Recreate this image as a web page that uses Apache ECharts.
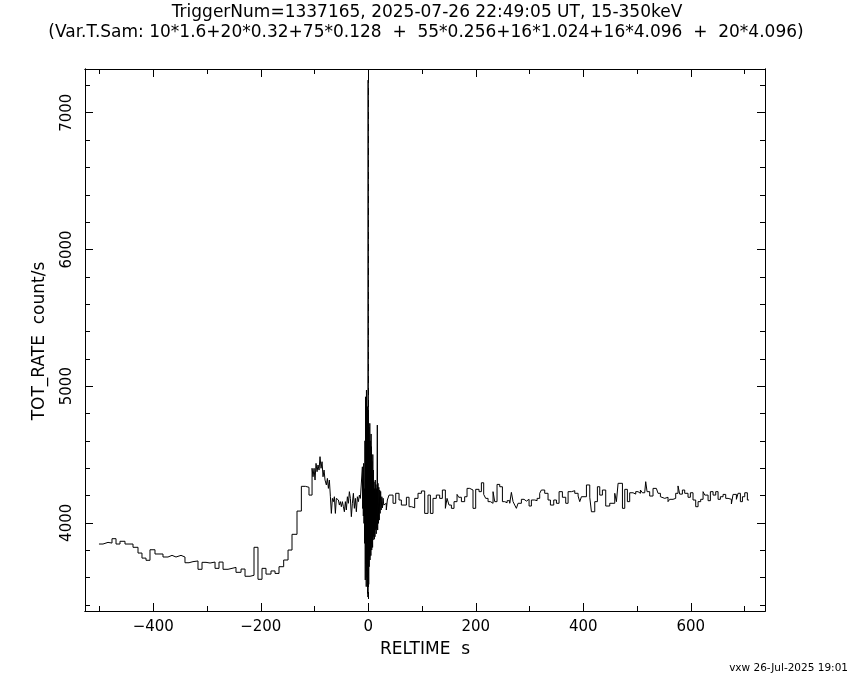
<!DOCTYPE html>
<html>
<head>
<meta charset="utf-8">
<script src="https://cdn.jsdelivr.net/npm/echarts@6/dist/echarts.min.js"></script>
<style>html,body{margin:0;padding:0;background:#fff}#c{width:850px;height:680px}</style>
</head>
<body>
<div id="c"></div>
<script>
// ---- data (bin start time [s], rate [count/s]) ----
const preTimes = [-501,-493.5,-484.2,-476.8,-469.3,-461.9,-452.6,-437.7,-428.4,-421,-413.5,-406.1,-396.8,-381.9,-372.6,-365.1,-357.7,-348.4,-341,-333.5,-326.1,-316.8,-309.3,-301.9,-294.4,-285.1,-277.7,-270.2,-260.9,-246.1,-236.7,-229.3,-220,-212.6,-205.2,-197.7,-190.3,-181,-173.5,-166.1,-157.4,-149.3,-141.9,-132.6,-124.5,-117,-110.3];
const preRates = [3845,3857,3852,3884,3845,3865,3845,3821,3779,3742,3726,3803,3772,3750,3762,3750,3762,3750,3708,3716,3721,3660,3711,3706,3713,3667,3713,3660,3674,3638,3662,3609,3616,3821,3587,3667,3625,3648,3630,3679,3728,3801,3916,4086,4267,4260,4203];

const fineTimes = [-104.6,-102.8,-100.9,-99.1,-97.2,-95.3,-93.5,-91.6,-89.8,-87.9,-86.0,-84.2,-82.3,-80.5,-78.0,-76.1,-74.2,-72.4,-70.5,-68.7,-66.8,-64.9,-63.1,-61.2,-59.4,-57.5,-55.6,-53.8,-51.9,-50.1,-48.2,-46.3,-44.5,-42.6,-40.8,-38.9,-37.0,-35.2,-33.3,-31.5,-29.6,-27.7,-25.9,-24.0,-22.2,-20.3,-18.4,-16.6,-14.7,-12.9];
const fineRates = [4399,4337,4399,4313,4435,4374,4423,4386,4484,4399,4447,4337,4386,4313,4277,4325,4252,4313,4191,4069,4179,4155,4191,4069,4179,4167,4179,4130,4155,4118,4155,4118,4081,4155,4094,4191,4143,4228,4179,4045,4143,4216,4106,4179,4081,4191,4155,4203,4179,4191];

const burstTimes = [-11.0,-10.4,-9.8,-9.2,-8.6,-8.0,-7.4,-6.8,-6.2,-5.6,-5.0,-4.6,-4.2,-3.8,-3.4,-3.0,-2.6,-2.2,-1.8,-1.4,-1.0,-0.6,-0.3,0.0,0.4,0.8,1.2,1.6,2.0,2.4,2.8,3.2,3.6,4.0,4.4,4.8,5.2,5.6,6.0,6.4,6.8,7.2,7.6,8.0,8.4,8.8,9.4,10.0,10.6,11.2,11.8,12.4,13.0,13.6,14.2,14.8,15.4,16.0,16.8,17.4,18.0,18.8,19.6,20.4,21.2,22.0,23.0,24.0,25.2,26.4,27.6,28.8];
const burstRates = [4410,4105,4300,4050,4435,3996,4250,3850,4600,3582,4922,3700,4500,3533,4971,3650,4700,3600,4850,3484,4600,3457,7239,3700,4825,3550,4700,3679,4500,3750,4728,3728,4600,3800,4450,3760,4650,3850,4557,3801,4450,3850,4350,3820,4500,3874,4386,3900,4300,3880,4250,3898,4313,3950,4280,3920,4250,3960,4715,3947,4289,3996,4260,4020,4240,4069,4230,4094,4191,4110,4180,4130];

const postTimes = [30.5,33.5,35.5,38.6,46,51,57.2,61.5,70.9,75.8,80.2,86.3,92.5,98.8,104.9,111.1,115.5,120.4,126.6,132.8,137.8,143.4,146.5,150.2,154.6,159.5,165.1,168.2,173.2,179.3,183.7,188.7,194.8,199.8,206,210.4,214.7,218.4,222.8,227.2,232.1,235.2,239.5,244.5,249.5,253.8,258.2,263.1,266.2,269.3,272.4,275.5,278.6,284.8,289.8,294.1,299.1,303.4,309.6,314,318.9,322,328.2,334.4,338.8,345,350,354.9,361.1,367.3,371.7,377.9,384.1,390.3,393.4,396.5,405.8,412,415.1,421.3,426.2,430.6,435.5,441.7,449.2,458.5,461.6,464.7,472.8,477.1,482,486.3,492.5,497.5,501.8,506.2,509.9,514.2,516.1,518.6,523.5,529.7,535.9,539,543.4,547.1,551.4,557.6,560.7,566.9,571.9,576.2,579.3,584.3,588.6,594.8,599.2,604.1,609.1,613.5,618.4,622.8,625.9,632.1,636.4,641.4,646.3,650.7,655,660,664.9,669.3,675.5,678.6,684.8,687.9,692.2,696,700.3,705.2];
const postRates = [4143,4094,4167,4203,4143,4216,4167,4130,4187,4118,4110,4179,4216,4233,4069,4203,4069,4179,4203,4179,4240,4106,4179,4130,4106,4155,4208,4187,4155,4191,4252,4240,4106,4245,4228,4293,4208,4179,4155,4143,4228,4155,4281,4264,4155,4147,4162,4143,4223,4155,4130,4106,4143,4172,4159,4172,4123,4167,4162,4179,4216,4240,4216,4167,4130,4167,4143,4228,4187,4143,4228,4235,4216,4196,4155,4191,4277,4187,4081,4155,4264,4203,4240,4123,4143,4216,4155,4289,4106,4245,4155,4220,4210,4228,4216,4240,4220,4220,4301,4228,4196,4252,4245,4216,4191,4179,4187,4155,4172,4179,4216,4270,4210,4240,4216,4187,4220,4167,4118,4155,4172,4228,4203,4162,4228,4203,4228,4172,4191,4208,4179,4172,4138,4208,4172,4216,4155,4191,4220,4167];
const endTime = 708.3;

// ---- axes ----
const xRange = [-527, 738];
const yRange = [3355, 7320];
const xMajor = [-400, -200, 0, 200, 400, 600];
const xMinor = [-500, -300, -100, 100, 300, 500, 700];
const yMajor = [4000, 5000, 6000, 7000];
const yMinor = [3400, 3600, 3800, 4200, 4400, 4600, 4800, 5200, 5400, 5600, 5800, 6200, 6400, 6600, 6800, 7200];

const titleLine1 = 'TriggerNum=1337165, 2025-07-26 22:49:05 UT, 15-350keV';
const titleLine2 = '(Var.T.Sam: 10*1.6+20*0.32+75*0.128  +  55*0.256+16*1.024+16*4.096  +  20*4.096)';
const xName = 'RELTIME  s';
const yName = 'TOT_RATE  count/s';
const footer = 'vxw 26-Jul-2025 19:01';

// ---- build ----
function seg(ts, vs) { return ts.map((t, i) => [t, vs[i]]); }
const data = [].concat(seg(preTimes, preRates), seg(fineTimes, fineRates), seg(burstTimes, burstRates), seg(postTimes, postRates));
data.push([endTime, postRates[postRates.length - 1]]);

const FONT = 'DejaVu Sans';
const black = '#000';
function minusFmt(v) { return v < 0 ? '\u2212' + Math.abs(v) : String(v); }
function plainFmt(v) { return String(v); }

function xAx(pos, ticks, len, labels) {
  return {
    type: 'value', position: pos, min: xRange[0], max: xRange[1], gridIndex: 0,
    axisLine: { show: true, onZero: false, lineStyle: { color: black, width: 1 } },
    axisTick: { show: true, inside: true, length: len, customValues: ticks, lineStyle: { color: black, width: 1 } },
    axisLabel: labels ? { show: true, customValues: labels, formatter: minusFmt, color: black, fontFamily: FONT, fontSize: 15, margin: 9 } : { show: false },
    splitLine: { show: false }, minorTick: { show: false }
  };
}
function yAx(pos, ticks, len, labels) {
  return {
    type: 'value', position: pos, min: yRange[0], max: yRange[1], gridIndex: 0,
    axisLine: { show: true, onZero: false, lineStyle: { color: black, width: 1 } },
    axisTick: { show: true, inside: true, length: len, customValues: ticks, lineStyle: { color: black, width: 1 } },
    axisLabel: labels ? { show: true, customValues: labels, formatter: plainFmt, rotate: 90, color: black, fontFamily: FONT, fontSize: 15, margin: 10 } : { show: false },
    splitLine: { show: false }, minorTick: { show: false }
  };
}

const chart = echarts.init(document.getElementById('c'), null, { renderer: 'canvas' });
chart.setOption({
  animation: false,
  backgroundColor: '#fff',
  grid: { left: 85, right: 85, top: 69, bottom: 69, containLabel: false },
  xAxis: [
    xAx('bottom', xMajor, 8, xMajor),
    xAx('bottom', xMinor, 5, null),
    xAx('top', xMajor, 8, null),
    xAx('top', xMinor, 5, null)
  ],
  yAxis: [
    yAx('left', yMajor, 8, yMajor),
    yAx('left', yMinor, 5, null),
    yAx('right', yMajor, 8, null),
    yAx('right', yMinor, 5, null)
  ],
  series: [{
    type: 'line', xAxisIndex: 0, yAxisIndex: 0, step: 'end', data: data,
    showSymbol: false, symbol: 'none', clip: true,
    lineStyle: { color: black, width: 1 },
    markLine: {
      silent: true, symbol: 'none', label: { show: false },
      lineStyle: { color: black, width: 1, type: [7, 5] },
      data: [{ xAxis: 0 }]
    }
  }],
  graphic: [
    { type: 'text', x: 427, y: 13, style: { text: titleLine1, fontFamily: FONT, fontSize: 17, fill: black, align: 'center', verticalAlign: 'middle' } },
    { type: 'text', x: 426, y: 33, style: { text: titleLine2, fontFamily: FONT, fontSize: 17, fill: black, align: 'center', verticalAlign: 'middle' } },
    { type: 'text', x: 425, y: 650, style: { text: xName, fontFamily: FONT, fontSize: 17, fill: black, align: 'center', verticalAlign: 'middle' } },
    { type: 'text', x: 40, y: 341, rotation: Math.PI / 2, style: { text: yName, fontFamily: FONT, fontSize: 17, fill: black, align: 'center', verticalAlign: 'middle' } },
    { type: 'text', x: 848, y: 668, style: { text: footer, fontFamily: FONT, fontSize: 10.5, fill: black, align: 'right', verticalAlign: 'middle' } }
  ]
});
</script>
</body>
</html>
